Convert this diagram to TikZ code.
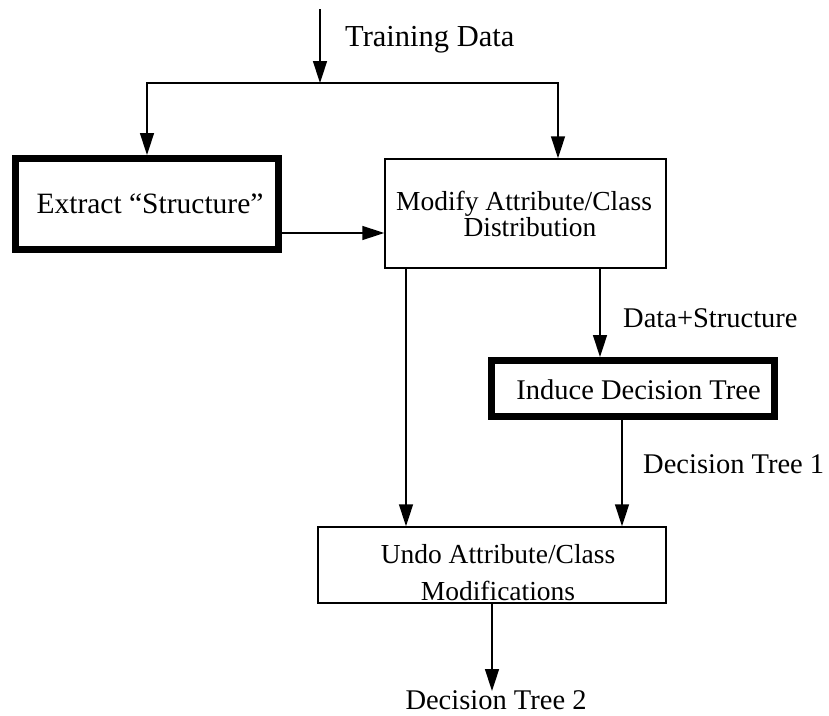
\documentclass[tikz,border=0pt]{standalone}
\usepackage{fontspec}
\setmainfont{Liberation Serif}
\usetikzlibrary{arrows.meta}
\begin{document}
\begin{tikzpicture}[x=1pt,y=-1pt,
  thinbox/.style={draw, line width=1.5pt, inner sep=0pt},
  thickbox/.style={draw, line width=7pt, inner sep=0pt},
  tip/.style={-{Triangle[length=22pt,width=14pt]}},
  conn/.style={line width=1.5pt, tip},
  txt/.style={inner sep=0pt, font=\fontsize{28.5}{34}\selectfont},
  txtsmall/.style={inner sep=0pt, font=\fontsize{27.5}{33}\selectfont}
]
\useasboundingbox (0,0) rectangle (829,715);

% boxes
\node[thickbox, minimum width=263pt, minimum height=91pt] (extract) at (147,204) {};
\node[thinbox, minimum width=281pt, minimum height=109pt] (modify) at (525.5,213.5) {};
\node[thickbox, minimum width=283pt, minimum height=56pt] (induce) at (633,388.5) {};
\node[thinbox, minimum width=348pt, minimum height=76pt] (undo) at (492,565) {};

% box texts
\node[inner sep=0pt, font=\fontsize{29.5}{34}\selectfont] (extractT) at (150,204) {Extract “Structure”};
\node[txtsmall, align=center, font=\fontsize{27.5}{21}\selectfont] (modifyT) at (524,214) {Modify Attribute/Class\\\hspace*{12pt}Distribution};
\node[txt] (induceT) at (638.5,390) {Induce Decision Tree};
\node[txtsmall, align=center, font=\fontsize{27.5}{37}\selectfont] (undoT) at (498,573) {Undo Attribute/Class\\Modifications};

% labels
\node[inner sep=0pt, anchor=west, font=\fontsize{30.5}{36}\selectfont] (trainL) at (345,40) {Training Data};
\node[txt, anchor=west] (dsL) at (623,318) {Data+Structure};
\node[txt, anchor=west] (dt1L) at (643,464) {Decision Tree 1};
\node[txt] (dt2L) at (496,700) {Decision Tree 2};

% coordinates
\coordinate (topin) at (320,9);
\coordinate (split) at (320,83);
\coordinate (jl) at (147,83);
\coordinate (jr) at (558,83);
\coordinate (xa) at (406,0);
\coordinate (xb) at (600,0);
\coordinate (xc) at (622,0);
\coordinate (ya) at (0,233);
\coordinate (dt2tip) at (492,691);

% connectors
\draw[conn] (topin) -- (split);
\draw[line width=1.5pt, {Triangle[length=22pt,width=14pt]}-{Triangle[length=22pt,width=14pt]}]
  (jl |- extract.north) -- (jl) -- (jr) -- (jr |- modify.north);
\draw[conn] (extract.east |- ya) -- (modify.west |- ya);
\draw[conn] (xa |- modify.south) -- (xa |- undo.north);
\draw[conn] (xb |- modify.south) -- (xb |- induce.north);
\draw[conn] (xc |- induce.south) -- (xc |- undo.north);
\draw[conn] (undo.south -| dt2tip) -- (dt2tip);
\end{tikzpicture}
\end{document}
